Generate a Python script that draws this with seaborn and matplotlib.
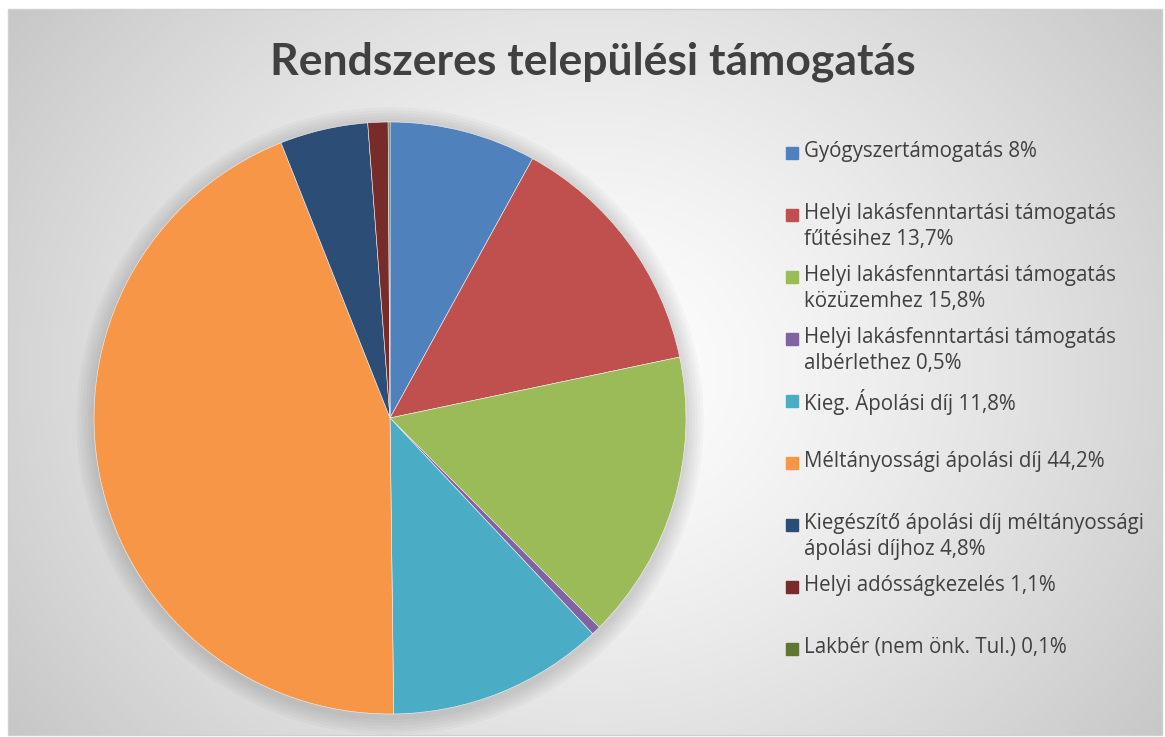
import numpy as np
import seaborn as sns
import matplotlib.pyplot as plt
from matplotlib.patches import Rectangle, Circle

labels = [
    "Gyógyszertámogatás 8%",
    "Helyi lakásfenntartási támogatás\nfűtésihez 13,7%",
    "Helyi lakásfenntartási támogatás\nközüzemhez 15,8%",
    "Helyi lakásfenntartási támogatás\nalbérlethez 0,5%",
    "Kieg. Ápolási díj 11,8%",
    "Méltányossági ápolási díj 44,2%",
    "Kiegészítő ápolási díj méltányossági\nápolási díjhoz 4,8%",
    "Helyi adósságkezelés 1,1%",
    "Lakbér (nem önk. Tul.) 0,1%",
]
values = [8.0, 13.7, 15.8, 0.5, 11.8, 44.2, 4.8, 1.1, 0.1]
colors = ["#4F81BD", "#C0504D", "#9BBB59", "#8064A2", "#4BACC6",
          "#F79646", "#2C4D75", "#772C2A", "#5F7530"]

sns.set_theme(style="white")
plt.rcParams['font.family'] = ['Open Sans', 'DejaVu Sans']
pal = sns.color_palette(colors)

W, H = 1165, 737
fig = plt.figure(figsize=(W / 100, H / 100), dpi=100)
fig.patch.set_facecolor("white")

# background with radial gradient
bg = fig.add_axes([0, 0, 1, 1])
bg.set_xlim(0, W)
bg.set_ylim(H, 0)
bg.axis("off")
x0, x1, y0, y1 = 8, 1162, 9, 735
xx, yy = np.meshgrid(np.arange(x0, x1), np.arange(y0, y1))
d = np.hypot((xx - 590) / 1.05, (yy - 370) * 1.1)
v = np.clip(1 - 0.22 * (d / 680) ** 1.3, 0.76, 1)
bg.imshow(np.dstack([v, v, v]), extent=(x0, x1, y1, y0), aspect="auto",
          interpolation="bilinear", zorder=0)
bg.add_patch(Rectangle((x0, y0), x1 - x0, y1 - y0, fill=False,
                       edgecolor="#d0d0d0", lw=1, zorder=1))

# title
fig.text(593 / W, 1 - 62 / H, "Rendszeres települési támogatás",
         ha="center", va="center", fontsize=32, fontweight="bold",
         color="#404040", family=['Lato', 'DejaVu Sans'])

# pie
cx, cy, r = 390, 418, 296
ax = fig.add_axes([(cx - r) / W, (H - cy - r) / H, 2 * r / W, 2 * r / H])
for k in range(6):
    ax.add_patch(Circle((0.0, -0.01), 1.0 + 0.01 * (k + 1),
                        color="black", alpha=0.022, lw=0, zorder=0,
                        clip_on=False))
ax.pie(values, colors=pal, startangle=90, counterclock=False,
       wedgeprops=dict(linewidth=0.4, edgecolor="#f4f4f4"))
ax.set_xlim(-1, 1)
ax.set_ylim(-1, 1)
ax.set_aspect("equal")
ax.axis("off")

# legend
for i, (lab, col) in enumerate(zip(labels, pal)):
    ty = 153 + 62 * i
    bg.add_patch(Rectangle((786, ty - 6), 12, 12, color=col, zorder=3))
    bg.text(804, ty - 12, lab, ha="left", va="top", fontsize=14.8,
            color="#404040", linespacing=1.3, zorder=3)

fig.savefig("out.png", dpi=100)
